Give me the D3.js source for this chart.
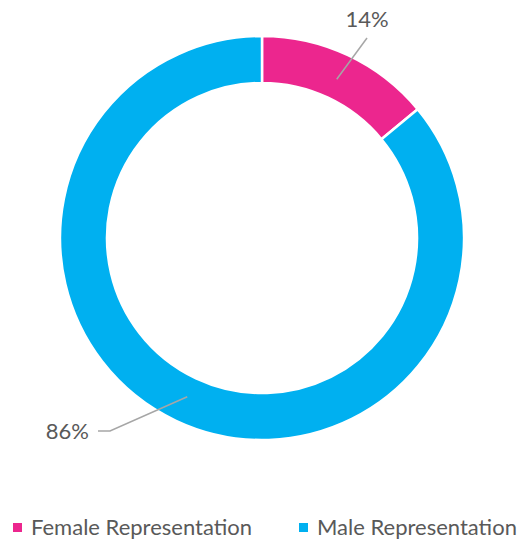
<!DOCTYPE html>
<meta charset="utf-8">
<script src="https://d3js.org/d3.v7.min.js"></script>
<style>
  body { margin: 0; background: #fff; }
  text { font-family: 'Lato', 'Open Sans', sans-serif; fill: #595959; }
</style>
<body>
<div id="my_dataviz"></div>
<script>

// data
var categories = ["Female Representation", "Male Representation"];
var shares = [14, 86];
var labels = ["14%", "86%"];
var colors = ["#EC268E", "#00B0F0"];

var width = 523, height = 540;
var cx = 262, cy = 238;
var outerR = 202, innerR = 155;

var svg = d3.select("#my_dataviz")
  .append("svg")
    .attr("width", width)
    .attr("height", height);

var g = svg.append("g")
    .attr("transform", "translate(" + cx + "," + cy + ")");

var pie = d3.pie().sort(null).value(function(d) { return d; });
var arcs = pie(shares);

var arc = d3.arc().innerRadius(innerR).outerRadius(outerR);

g.selectAll("path")
  .data(arcs)
  .enter()
  .append("path")
    .attr("d", arc)
    .attr("fill", function(d, i) { return colors[i]; })
    .attr("stroke", "#fff")
    .attr("stroke-width", 2.5);

// leader lines and labels
var midR = (innerR + outerR) / 2 - 3;
var leader = [
  {end: [105, -200], anchor: "middle", text: [105, -211]},
  {end: [-152, 193], anchor: "end", text: [-173, 201]}
];

arcs.forEach(function(d, i) {
  var a = (d.startAngle + d.endAngle) / 2;
  var p0 = [Math.sin(a) * midR, -Math.cos(a) * midR];
  var L = leader[i];
  var pts = [p0, L.end];
  if (i === 1) pts.push([L.end[0] - 12, L.end[1]]);
  g.append("path")
    .attr("d", d3.line()(pts))
    .attr("fill", "none")
    .attr("stroke", "#A6A6A6")
    .attr("stroke-width", 1.5);
  g.append("text")
    .attr("x", L.text[0])
    .attr("y", L.text[1])
    .attr("text-anchor", L.anchor)
    .style("font-size", "22px")
    .text(labels[i]);
});

// legend
var legendX = [13, 299];
categories.forEach(function(c, i) {
  svg.append("rect")
    .attr("x", legendX[i]).attr("y", 523)
    .attr("width", 9).attr("height", 9)
    .attr("fill", colors[i]);
  svg.append("text")
    .attr("x", legendX[i] + 18).attr("y", 535)
    .style("font-size", "22px")
    .text(c);
});

</script>
</body>
